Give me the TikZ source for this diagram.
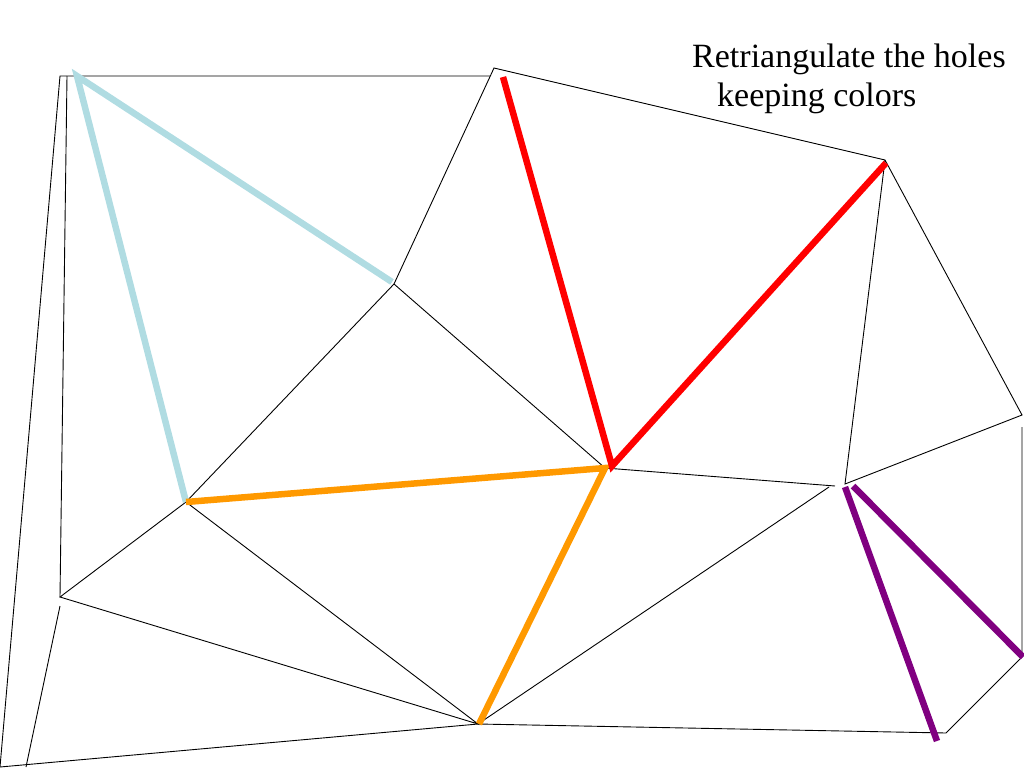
\documentclass[tikz,border=0pt]{standalone}
\usepackage{fontspec}
\setmainfont{Liberation Serif}
\definecolor{lblue}{RGB}{176,220,226}
\definecolor{orng}{RGB}{255,153,0}
\definecolor{purp}{RGB}{128,0,128}
\begin{document}
\begin{tikzpicture}[x=1pt,y=-1pt,
  thin edge/.style={black,line width=0.9pt},
  thick edge/.style={line width=6.5pt},
  lbl/.style={font=\fontsize{34}{36}\selectfont,inner sep=0pt,anchor=base west}]
\useasboundingbox (0,0) rectangle (1024,768);
% vertices
\coordinate (TL) at (60,76);
\coordinate (TL2) at (67,76);
\coordinate (TM) at (490,76);
\coordinate (A) at (494,68);
\coordinate (B) at (885,160);
\coordinate (C) at (1022,415);
\coordinate (C2) at (1022,427);
\coordinate (D) at (1022,657);
\coordinate (E) at (946,733);
\coordinate (F) at (478,724);
\coordinate (G) at (0,767);
\coordinate (G2) at (26,767);
\coordinate (H) at (60,597);
\coordinate (H2) at (60,606);
\coordinate (I) at (186,502);
\coordinate (J) at (394,284);
\coordinate (K) at (605,468);
\coordinate (L) at (835,486);
\coordinate (L2) at (829,487);
\coordinate (M) at (845,484);
% thin edges
\draw[thin edge] (G) -- (TL) -- (TM);
\draw[thin edge] (TL2) -- (H);
\draw[thin edge] (H2) -- (G2);
\draw[thin edge] (G) -- (F) -- (E) -- (D) -- (C2);
\draw[thin edge] (J) -- (A) -- (B) -- (C) -- (M) -- (B);
\draw[thin edge] (J) -- (I) -- (H) -- (F) -- (I);
\draw[thin edge] (J) -- (K) -- (L);
\draw[thin edge] (L2) -- (F);
% coloured edges
\draw[thick edge,lblue] (186,502) -- (77,76) -- (392,282);
\draw[thick edge,orng] (186,502) -- (605,468) -- (479,724);
\draw[thick edge,red] (503,77) -- (612,466) -- (886,163);
\draw[thick edge,purp] (845,487) -- (937,741);
\draw[thick edge,purp] (853,486) -- (1023,657);
% title
\node[lbl] (t1) at (692,67) {Retriangulate the holes};
\node[lbl] (t2) at (717,106) {keeping colors};
\end{tikzpicture}
\end{document}
